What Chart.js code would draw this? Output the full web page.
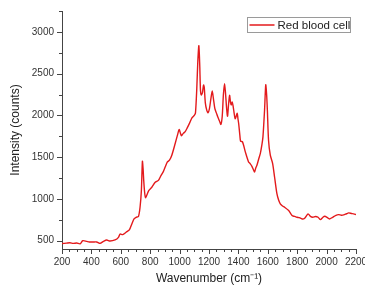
<!DOCTYPE html>
<html>
<head>
<meta charset="utf-8">
<script src="https://cdn.jsdelivr.net/npm/chart.js@4"></script>
<style>
  html, body { margin: 0; padding: 0; background: #fff; }
  #wrap { width: 365px; height: 288px; position: relative; }
</style>
</head>
<body>
<div id="wrap"><canvas id="raman-chart"></canvas></div>
<script>
// Raman spectrum
const wavenumbers = [
  200, 230, 254, 277, 300, 323, 341, 368, 386, 413, 436, 459, 482, 504, 527, 561,
  584, 595, 613, 636, 658, 675, 690, 704, 720, 731, 740, 747, 752, 756, 762, 768,
  778, 790, 811, 834, 856, 874, 890, 902, 917, 931, 947, 970, 985, 997, 1005, 1013,
  1025, 1038, 1052, 1067, 1085, 1100, 1108, 1117, 1124, 1131, 1137, 1142, 1147, 1155,
  1163, 1168, 1175, 1185, 1194, 1203, 1213, 1222, 1230, 1240, 1250, 1260, 1272, 1281,
  1290, 1298, 1306, 1313, 1320, 1326, 1333, 1340, 1346, 1351, 1358, 1364, 1370, 1378,
  1385, 1392, 1397, 1402, 1410, 1415, 1428, 1447, 1469, 1481, 1492, 1500, 1510, 1518,
  1526, 1540, 1549, 1560, 1567, 1578, 1586, 1592, 1597, 1605, 1617, 1633, 1646, 1662,
  1673, 1685, 1700, 1714, 1742, 1765, 1782, 1799, 1815, 1833, 1851, 1874, 1890, 1906,
  1925, 1942, 1958, 1975, 1987, 2003, 2019, 2041, 2060, 2082, 2100, 2116, 2135, 2150,
  2170, 2184, 2200
];
const intensity = [
  465, 470, 475, 467, 471, 462, 499, 491, 484, 484, 484, 467, 491, 508, 495, 508,
  539, 580, 572, 600, 628, 700, 760, 780, 790, 900, 1100, 1450, 1350, 1220, 1080, 1015,
  1050, 1100, 1140, 1200, 1222, 1282, 1330, 1382, 1443, 1463, 1523, 1664, 1760, 1830, 1790, 1755,
  1785, 1805, 1850, 1904, 1972, 2000, 2030, 2326, 2650, 2835, 2600, 2300, 2245, 2270,
  2365, 2330, 2150, 2060, 2032, 2080, 2200, 2293, 2200, 2080, 2030, 1980, 1930, 1892,
  1990, 2250, 2380, 2250, 2080, 1990, 2130, 2240, 2160, 2125, 2160, 2110, 2040, 1960,
  1990, 2025, 1960, 1900, 1760, 1690, 1683, 1563, 1443, 1420, 1390, 1360, 1322, 1370,
  1402, 1490, 1543, 1650, 1743, 2065, 2366, 2250, 2065, 1703, 1523, 1423, 1262, 1062,
  990, 941, 915, 900, 860, 800, 790, 780, 775, 760, 768, 821, 790, 780,
  790, 780, 752, 780, 792, 780, 760, 780, 800, 812, 805, 808, 822, 832,
  825, 821, 812
];
const seriesName = 'Red blood cell';

const xMin = 200, xMax = 2200, xStep = 50, xLabelStep = 200;
const yMin = 400, yMax = 3250, yStep = 250, yLabelStep = 500;

const lineColor = '#e31a1c';
const axisColor = '#444';
const textColor = '#333';

// draws tick marks (major + minor) pointing out of the plot
const tickMarks = {
  id: 'tickMarks',
  afterDraw(chart) {
    const ctx = chart.ctx;
    const xs = chart.scales.x;
    const ys = chart.scales.y;
    ctx.save();
    ctx.strokeStyle = axisColor;
    ctx.lineWidth = 1;
    ctx.beginPath();
    xs.ticks.forEach(t => {
      const px = Math.round(xs.getPixelForValue(t.value)) + 0.5;
      const len = t.value % xLabelStep === 0 ? 5 : 3;
      ctx.moveTo(px, ys.bottom);
      ctx.lineTo(px, ys.bottom + len);
    });
    ys.ticks.forEach(t => {
      const py = Math.round(ys.getPixelForValue(t.value)) + 0.5;
      const len = t.value % yLabelStep === 0 ? 5 : 3;
      ctx.moveTo(xs.left, py);
      ctx.lineTo(xs.left - len, py);
    });
    ctx.stroke();
    ctx.restore();
  }
};

// boxed legend in the top right corner
const boxLegend = {
  id: 'boxLegend',
  afterDraw(chart) {
    const ctx = chart.ctx;
    const ds = chart.data.datasets[0];
    const bx = 247.5, by = 17.5, bw = 103, bh = 15;
    ctx.save();
    ctx.fillStyle = '#fff';
    ctx.fillRect(bx, by, bw, bh);
    ctx.strokeStyle = '#9a9a9a';
    ctx.lineWidth = 1;
    ctx.strokeRect(bx, by, bw, bh);
    ctx.strokeStyle = ds.borderColor;
    ctx.lineWidth = 1.5;
    ctx.beginPath();
    ctx.moveTo(bx + 2, by + bh / 2);
    ctx.lineTo(bx + 27, by + bh / 2);
    ctx.stroke();
    ctx.fillStyle = '#222';
    ctx.font = '11.5px "Liberation Sans", Arial, sans-serif';
    ctx.textBaseline = 'middle';
    ctx.fillText(ds.label, bx + 30, by + bh / 2 + 0.5);
    ctx.restore();
  }
};

const points = wavenumbers.map((w, i) => ({ x: w, y: intensity[i] }));

new Chart(document.getElementById('raman-chart'), {
  type: 'line',
  data: {
    datasets: [{
      label: seriesName,
      data: points,
      borderColor: lineColor,
      borderWidth: 1.4,
      pointRadius: 0,
      tension: 0.25,
      fill: false
    }]
  },
  options: {
    responsive: true,
    maintainAspectRatio: false,
    animation: false,
    layout: { padding: { top: 11, right: 9, left: 0, bottom: 0 } },
    plugins: {
      legend: { display: false },
      tooltip: { enabled: false }
    },
    scales: {
      x: {
        type: 'linear',
        min: xMin,
        max: xMax,
        grid: { display: false, drawTicks: false },
        border: { display: true, color: axisColor, width: 1 },
        ticks: {
          stepSize: xStep,
          autoSkip: false,
          maxRotation: 0,
          padding: 7,
          color: textColor,
          font: { family: '"Liberation Sans", Arial, sans-serif', size: 10 },
          callback: v => (v % xLabelStep === 0 ? String(v) : '')
        },
        title: {
          display: true,
          text: 'Wavenumber (cm⁻¹)',
          color: '#222',
          font: { family: '"Liberation Sans", Arial, sans-serif', size: 12 },
          padding: { top: 0, bottom: 2 }
        },
        afterFit: scale => {
          scale.height = 39;
          scale.paddingLeft = 0;
          scale.paddingRight = 0;
        }
      },
      y: {
        type: 'linear',
        min: yMin,
        max: yMax,
        grid: { display: false, drawTicks: false },
        border: { display: true, color: axisColor, width: 1 },
        ticks: {
          stepSize: yStep,
          includeBounds: false,
          autoSkip: false,
          padding: 8,
          color: textColor,
          font: { family: '"Liberation Sans", Arial, sans-serif', size: 10 },
          callback: v => (v % yLabelStep === 0 ? String(v) : '')
        },
        title: {
          display: true,
          text: 'Intensity (counts)',
          color: '#222',
          font: { family: '"Liberation Sans", Arial, sans-serif', size: 12 },
          padding: { top: 8, bottom: 0 }
        },
        afterFit: scale => {
          scale.width = 62;
          scale.paddingTop = 0;
          scale.paddingBottom = 0;
        }
      }
    }
  },
  plugins: [tickMarks, boxLegend]
});
</script>
</body>
</html>
